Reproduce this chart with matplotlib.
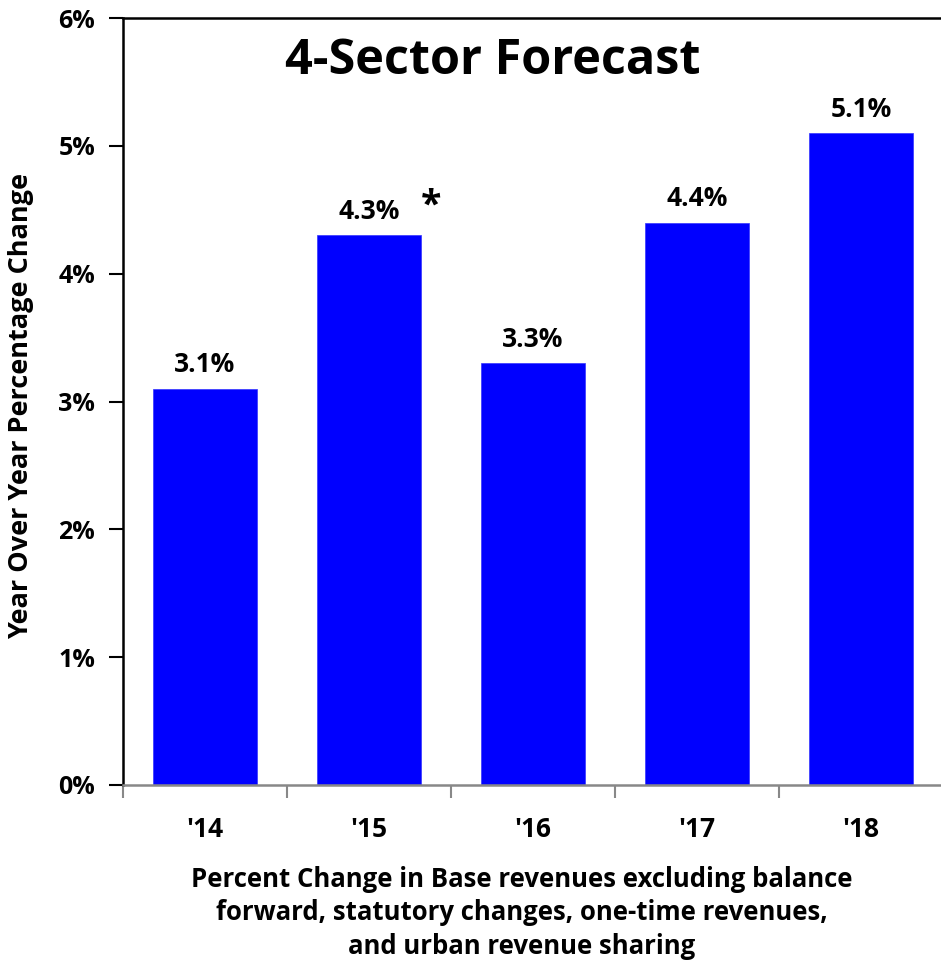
import matplotlib
matplotlib.use('Agg')
import matplotlib.pyplot as plt
from matplotlib.ticker import FuncFormatter

plt.rcParams['font.family'] = ['Open Sans', 'DejaVu Sans']
plt.rcParams['font.weight'] = 'bold'

years = ["'14", "'15", "'16", "'17", "'18"]
growth = [3.1, 4.3, 3.3, 4.4, 5.1]
bar_labels = ['3.1%', '4.3%', '3.3%', '4.4%', '5.1%']
yticks = [0, 1, 2, 3, 4, 5, 6]

W, H = 941, 967
fig = plt.figure(figsize=(W / 100, H / 100), dpi=100)
ax = fig.add_axes([123 / W, 1 - 785 / H, (943 - 123) / W, (785 - 18) / H])

x = range(len(years))
ax.bar(x, growth, width=0.634, color='#0000ff', edgecolor='#3333ff', linewidth=0.5, zorder=2)

for i, (v, lab) in enumerate(zip(growth, bar_labels)):
    ax.text(i, v + 0.08, lab, ha='center', va='bottom', fontsize=19, fontweight='bold')
ax.text(1.38, 4.3 + 0.08, '*', ha='center', va='bottom', fontsize=27, fontweight='bold')

ax.set_xlim(-0.5, 4.5)
ax.set_ylim(0, 6)
ax.set_yticks(yticks)
ax.yaxis.set_major_formatter(FuncFormatter(lambda v, p: f'{v:.0f}%'))
ax.set_xticks(x)
ax.set_xticklabels(years)
ax.set_xticks([i - 0.5 for i in range(len(years) + 1)], minor=True)

ax.tick_params(axis='y', length=10, width=1.5, color='black', labelsize=18, pad=10)
ax.tick_params(axis='x', which='major', length=0, labelsize=19, pad=22)
ax.tick_params(axis='x', which='minor', length=9, width=1.5, color='#888888')
for lab in ax.get_xticklabels() + ax.get_yticklabels():
    lab.set_fontweight('bold')

ax.spines['right'].set_visible(False)
ax.spines['top'].set_linewidth(1.8)
ax.spines['left'].set_linewidth(1.8)
ax.spines['bottom'].set_color('#888888')
ax.spines['bottom'].set_linewidth(1.8)

fig.text(21 / W, 1 - 406 / H, 'Year Over Year Percentage Change', rotation=90,
         ha='center', va='center', fontsize=19.5, fontweight='bold')

ax.text(0.451, 0.943, '4-Sector Forecast', transform=ax.transAxes, ha='center', va='center',
        fontsize=35, fontweight='bold')

fig.text(522 / W, 1 - 913 / H,
         'Percent Change in Base revenues excluding balance\n'
         'forward, statutory changes, one-time revenues,\n'
         'and urban revenue sharing',
         ha='center', va='center', fontsize=18.5, fontweight='bold', linespacing=1.32)

fig.savefig('out.png', dpi=100)
